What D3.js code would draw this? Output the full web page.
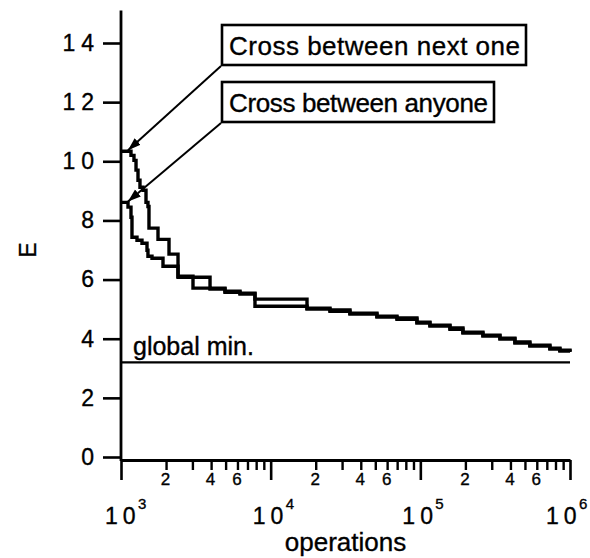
<!DOCTYPE html>
<html><head><meta charset="utf-8">
<script src="https://cdn.jsdelivr.net/npm/d3@7"></script>
<style>body{margin:0;background:#fff}svg text{font-family:"Liberation Sans",Arial,Helvetica,sans-serif;fill:#000;stroke:#000;stroke-width:0.35px}</style>
</head><body>
<svg id="c" width="590" height="558"></svg>
<script>
const seriesNames = ["Cross between next one", "Cross between anyone"];
const opsNext = [1000,1166,1221,1260,1299,1339,1403,1469,1514,1538,1767,2093,2404,3934,4951,6237,7855,17490,24900,33860,51290,69800,94900,115900,157700,192600,261900,340300,428500,539500,734000,856000,1000000];
const eNext = [10.34,10.20,10.03,9.70,9.36,9.12,9.02,8.61,8.47,7.74,7.36,6.86,6.08,5.71,5.61,5.54,5.34,5.00,4.93,4.86,4.76,4.70,4.56,4.46,4.32,4.22,4.12,3.99,3.89,3.78,3.68,3.61,3.58];
const opsAny = [1000,1114,1166,1184,1279,1381,1492,1514,1611,1908,2404,3027,3934,4951,6237,7855,17490,24900,33860,51290,69800,94900,115900,157700,192600,261900,340300,428500,539500,734000,856000,1000000];
const eAny = [8.61,8.45,8.11,7.43,7.33,7.23,6.99,6.79,6.72,6.45,6.11,5.71,5.68,5.57,5.51,5.10,5.03,4.97,4.83,4.73,4.66,4.53,4.43,4.36,4.19,4.09,4.02,3.85,3.75,3.65,3.58,3.55];
const globalMin = 3.2;
const globalMinLabel = "global min.";
const yTickValues = [0,2,4,6,8,10,12,14];
const yMax = 15.1;
const xMajorTicks = [1e3,1e4,1e5,1e6];
const xMajorExponents = ["3","4","5","6"];
const xMinorMultipliers = [2,3,4,5,6,7,8,9];
const xMinorLabelMultipliers = [2,4,6];
const xTitle = "operations";
const yTitle = "E";

const svg = d3.select("#c");
const x = d3.scaleLog().domain([1e3,1e6]).range([121,570]);
const y = d3.scaleLinear().domain([0,14]).range([457,43]);
const axisY = y(0) + 3;
const FF = '"Liberation Sans",Arial,sans-serif';

// y axis
const gy = svg.append("g").attr("transform","translate(121,0)")
  .call(d3.axisLeft(y).tickValues(yTickValues).tickSize(18).tickPadding(9).tickSizeOuter(0));
gy.select(".domain").remove();
gy.selectAll(".tick line").attr("stroke","#000").attr("stroke-width",2.6);
gy.selectAll(".tick text").attr("font-size",23).attr("letter-spacing",6).attr("dx",6)
  .attr("font-family",FF);
svg.append("line").attr("x1",121).attr("x2",121).attr("y1",y(yMax)).attr("y2",axisY+1)
  .attr("stroke","#000").attr("stroke-width",2.8);

// x axis
const minorVals = [];
xMajorTicks.slice(0,-1).forEach(m => xMinorMultipliers.forEach(k => minorVals.push(m*k)));
const gxm = svg.append("g").attr("transform",`translate(0,${axisY})`)
  .call(d3.axisBottom(x).tickValues(minorVals).tickSize(10).tickSizeOuter(0).tickPadding(3)
    .tickFormat(d => { const k = Math.round(d / Math.pow(10, Math.floor(Math.log10(d)+1e-9))); return xMinorLabelMultipliers.includes(k) ? String(k) : ""; }));
gxm.select(".domain").remove();
gxm.selectAll(".tick line").attr("stroke","#000").attr("stroke-width",2.4);
gxm.selectAll(".tick text").attr("font-size",17).attr("font-family",FF).attr("dx",-1);
const gxM = svg.append("g").attr("transform",`translate(0,${axisY})`)
  .call(d3.axisBottom(x).tickValues(xMajorTicks).tickSize(20).tickSizeOuter(0).tickFormat(""));
gxM.select(".domain").attr("stroke","#000").attr("stroke-width",2.8);
gxM.selectAll(".tick line").attr("stroke","#000").attr("stroke-width",2.6);
xMajorTicks.forEach((t,i) => {
  const shift = i === xMajorTicks.length - 1 ? -6 : (i === 0 ? 2 : 0);
  const base = x(t) - 18 + shift;
  const tx = svg.append("text").attr("x",base).attr("y",524).attr("font-size",23);
  tx.append("tspan").text("1");
  tx.append("tspan").attr("dx",5).text("0");
  svg.append("text").attr("x",base+33).attr("y",509).attr("font-size",15).text(xMajorExponents[i]);
});
svg.append("text").attr("x",(x(1e3)+x(1e6))/2).attr("y",551).attr("text-anchor","middle")
  .attr("font-size",26).text(xTitle);
svg.append("text").attr("transform","translate(36,250) rotate(-90)").attr("text-anchor","middle")
  .attr("font-size",23).text(yTitle);

// global min
svg.append("line").attr("x1",121).attr("x2",x(1e6)).attr("y1",y(globalMin)).attr("y2",y(globalMin))
  .attr("stroke","#000").attr("stroke-width",2.2);
svg.append("text").attr("x",133).attr("y",y(globalMin)-7).attr("font-size",25).text(globalMinLabel);

// curves
const line = d3.line().x(d => x(d[0])).y(d => y(d[1])).curve(d3.curveStepAfter);
const seriesData = [d3.zip(opsNext,eNext), d3.zip(opsAny,eAny)];
seriesData.forEach(s => {
  svg.append("path").attr("d",line(s)).attr("fill","none").attr("stroke","#000")
    .attr("stroke-width",3.4).attr("stroke-linejoin","miter");
});

// legend boxes with arrows
svg.append("defs").append("marker").attr("id","ah").attr("markerUnits","userSpaceOnUse")
  .attr("markerWidth",14).attr("markerHeight",10).attr("refX",13).attr("refY",4.5).attr("orient","auto")
  .append("path").attr("d","M0,0 L13,4.5 L0,9 z").attr("fill","#000");
const boxes = [{x:222,y:25,w:304,h:40,tw:291},{x:222,y:82,w:272,h:40,tw:259}];
seriesNames.forEach((name,i) => {
  const b = boxes[i];
  svg.append("rect").attr("x",b.x).attr("y",b.y).attr("width",b.w).attr("height",b.h)
    .attr("fill","#fff").attr("stroke","#000").attr("stroke-width",2.6);
  svg.append("text").attr("x",b.x+7).attr("y",b.y+30).attr("font-size",26)
    .attr("textLength",b.tw).attr("lengthAdjust","spacing").text(name);
  const s = seriesData[i][0];
  svg.append("line").attr("x1",b.x-1).attr("y1",b.y+b.h+1)
    .attr("x2",x(s[0])+7).attr("y2",y(s[1])-1)
    .attr("stroke","#000").attr("stroke-width",2).attr("marker-end","url(#ah)");
});
</script>
</body></html>
